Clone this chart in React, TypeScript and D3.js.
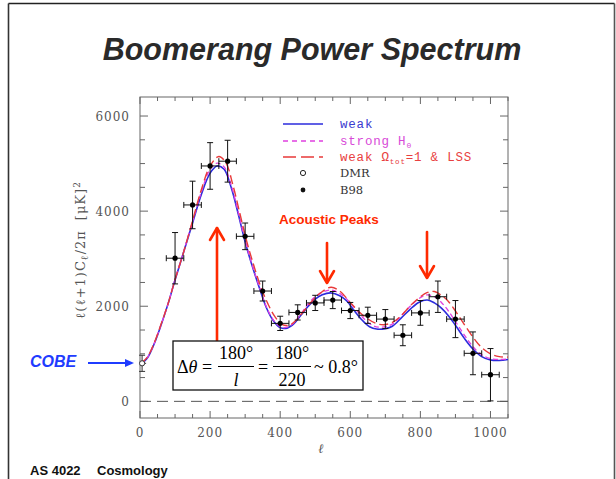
import React from 'react';
import * as d3 from 'd3';

const W = 616;
const H = 479;

// B98 band powers
const b98L = [100, 150, 200, 250, 300, 350, 400, 450, 500, 550, 600, 650, 700, 750, 800, 850, 900, 950, 1000];
const b98Power = [3010, 4130, 4950, 5050, 3470, 2320, 1640, 1870, 2070, 2130, 1910, 1810, 1730, 1390, 1860, 2200, 1730, 1010, 560];
const b98Err = [540, 500, 490, 440, 280, 210, 150, 160, 160, 180, 170, 170, 200, 220, 260, 330, 390, 450, 550];
const b98LHalfWidth = 25;

// DMR (COBE)
const dmrL = [6];
const dmrPower = [800];
const dmrErr = [170];

// Model curves
const weakL = [2, 20, 40, 60, 80, 100, 125, 150, 175, 200, 220, 240, 260, 280, 300, 320, 340, 360, 380, 400, 420, 440, 460, 480, 500, 520, 545, 570, 590, 610, 635, 655, 675, 700, 720, 745, 770, 795, 820, 840, 860, 880, 900, 925, 950, 975, 1000, 1025, 1050];
const weakPower = [780, 900, 1200, 1600, 2050, 2550, 3150, 3750, 4350, 4800, 4950, 4880, 4500, 3950, 3350, 2850, 2400, 1980, 1700, 1550, 1540, 1640, 1820, 2000, 2150, 2240, 2280, 2220, 2110, 1920, 1700, 1570, 1520, 1530, 1580, 1750, 1930, 2080, 2130, 2070, 1960, 1800, 1600, 1330, 1100, 940, 870, 860, 880];

const strongH0L = [2, 20, 40, 60, 80, 100, 125, 150, 175, 200, 220, 240, 260, 280, 300, 320, 340, 360, 380, 400, 420, 440, 460, 480, 505, 540, 565, 590, 615, 640, 660, 680, 705, 725, 750, 775, 800, 820, 840, 860, 880, 900, 925, 950, 975, 1000, 1025, 1050];
const strongH0Power = [790, 910, 1210, 1610, 2050, 2560, 3160, 3780, 4400, 4880, 5010, 4930, 4550, 3990, 3380, 2870, 2420, 2000, 1720, 1570, 1560, 1660, 1850, 2050, 2230, 2340, 2290, 2150, 1940, 1730, 1610, 1560, 1580, 1650, 1840, 2030, 2180, 2240, 2200, 2080, 1900, 1680, 1400, 1150, 980, 900, 880, 890];

const weakOmegaL = [2, 20, 40, 60, 80, 100, 125, 150, 175, 200, 225, 245, 265, 285, 305, 325, 345, 365, 385, 405, 425, 445, 465, 490, 515, 545, 570, 595, 620, 645, 670, 695, 720, 745, 770, 795, 820, 840, 860, 880, 900, 925, 950, 975, 1000, 1025, 1050];
const weakOmegaPower = [800, 920, 1220, 1620, 2050, 2560, 3150, 3800, 4450, 4950, 5150, 5020, 4550, 3950, 3350, 2850, 2400, 2050, 1780, 1620, 1600, 1700, 1880, 2100, 2280, 2400, 2320, 2120, 1920, 1760, 1650, 1610, 1660, 1800, 2000, 2170, 2290, 2310, 2230, 2100, 1900, 1620, 1350, 1130, 1000, 940, 930];

const xTicks = [0, 200, 400, 600, 800, 1000];
const yTicks = [0, 2000, 4000, 6000];

const BLUE = '#2b2bdc';
const MAGENTA = '#e040e0';
const RED = '#e83a3a';
const ARROW_RED = '#ff2a00';
const AXIS = '#666';

export default function App() {
  const x = d3.scaleLinear().domain([0, 1050]).range([140, 508]);
  const y = d3.scaleLinear().domain([-350, 6400]).range([418, 97]);
  const line = d3
    .line<[number, number]>()
    .x((d) => x(d[0]))
    .y((d) => y(d[1]))
    .curve(d3.curveCatmullRom.alpha(0.5));

  const weakPath = line(weakL.map((l, i) => [l, weakPower[i]]) as [number, number][]) || '';
  const strongPath = line(strongH0L.map((l, i) => [l, strongH0Power[i]]) as [number, number][]) || '';
  const omegaPath = line(weakOmegaL.map((l, i) => [l, weakOmegaPower[i]]) as [number, number][]) || '';

  const [x0, x1] = x.range();
  const [yb, yt] = y.range();

  const xMinor = d3.range(0, 1051, 50);
  const yMinor = d3.range(0, 6401, 500);

  const tickFont = { fontFamily: 'DejaVu Serif', fontSize: 12, fill: '#555', letterSpacing: 1 } as const;
  const legFont = { fontFamily: 'Liberation Mono', fontSize: 12.5, letterSpacing: 0.8 } as const;

  return (
    <svg
      width={W}
      height={H}
      style={{ position: 'absolute', left: 0, top: 0, background: '#fff' }}
      xmlns="http://www.w3.org/2000/svg"
    >
      {/* slide border */}
      <line x1={8.5} y1={3.5} x2={8.5} y2={H} stroke="#333" strokeWidth={1.6} />
      <line x1={8.5} y1={3.5} x2={614.5} y2={3.5} stroke="#222" strokeWidth={1.6} />
      <line x1={614.5} y1={3.5} x2={614.5} y2={H} stroke="#555" strokeWidth={1.6} />

      {/* title */}
      <text
        x={312}
        y={60}
        textAnchor="middle"
        fontFamily="Liberation Sans"
        fontWeight="bold"
        fontStyle="italic"
        fontSize={30.5}
        fill="#2a2a2a"
      >
        Boomerang Power Spectrum
      </text>

      {/* plot frame */}
      <rect x={x0} y={yt} width={x1 - x0} height={yb - yt} fill="none" stroke={AXIS} strokeWidth={1} />

      {/* x ticks */}
      {xMinor.map((v) => {
        const major = v % 200 === 0;
        const len = major ? 7 : 4;
        return (
          <g key={'xt' + v}>
            <line x1={x(v)} x2={x(v)} y1={yb} y2={yb - len} stroke={AXIS} />
            <line x1={x(v)} x2={x(v)} y1={yt} y2={yt + len} stroke={AXIS} />
          </g>
        );
      })}
      {xTicks.map((v) => (
        <text key={'xl' + v} x={x(v)} y={437} textAnchor="middle" {...tickFont}>
          {v}
        </text>
      ))}
      <text x={321} y={453} textAnchor="middle" fontFamily="DejaVu Serif" fontStyle="italic" fontSize={13} fill="#555">
        ℓ
      </text>

      {/* y ticks */}
      {yMinor.map((v) => {
        const major = v % 2000 === 0;
        const len = major ? 8 : 5;
        return (
          <g key={'yt' + v}>
            <line x1={x0} x2={x0 + len} y1={y(v)} y2={y(v)} stroke={AXIS} />
            <line x1={x1} x2={x1 - len} y1={y(v)} y2={y(v)} stroke={AXIS} />
          </g>
        );
      })}
      {yTicks.map((v) => (
        <text key={'yl' + v} x={130} y={y(v) + 4.5} textAnchor="end" {...tickFont}>
          {v}
        </text>
      ))}
      <text
        transform="translate(85,250) rotate(-90)"
        textAnchor="middle"
        fontFamily="DejaVu Serif"
        fontSize={13}
        letterSpacing={1}
        fill="#555"
      >
        ℓ(ℓ+1)C<tspan fontSize={10} dy={3}>ℓ</tspan>
        <tspan dy={-3}>/2π</tspan>
        <tspan dx={10}>[μK]</tspan>
        <tspan fontSize={9} dy={-5}>2</tspan>
      </text>

      {/* zero line */}
      <line x1={x0} x2={x1} y1={y(0)} y2={y(0)} stroke="#555" strokeWidth={1} strokeDasharray="11,6" />

      {/* model curves */}
      <path d={weakPath} fill="none" stroke={BLUE} strokeWidth={1.6} />
      <path d={strongPath} fill="none" stroke={MAGENTA} strokeWidth={1.3} strokeDasharray="5,3" />
      <path d={omegaPath} fill="none" stroke={RED} strokeWidth={1.4} strokeDasharray="9,4" />

      {/* B98 error bars */}
      {b98L.map((l, i) => {
        const cx = x(l);
        const cy = y(b98Power[i]);
        const ya = y(b98Power[i] - b98Err[i]);
        const yb2 = y(b98Power[i] + b98Err[i]);
        const xa = x(l - b98LHalfWidth);
        const xb = x(l + b98LHalfWidth);
        return (
          <g key={'b' + l} stroke="#111" strokeWidth={1}>
            <line x1={cx} x2={cx} y1={ya} y2={yb2} />
            <line x1={cx - 3} x2={cx + 3} y1={ya} y2={ya} />
            <line x1={cx - 3} x2={cx + 3} y1={yb2} y2={yb2} />
            <line x1={xa} x2={xb} y1={cy} y2={cy} />
            <line x1={xa} x2={xa} y1={cy - 3} y2={cy + 3} />
            <line x1={xb} x2={xb} y1={cy - 3} y2={cy + 3} />
            <circle cx={cx} cy={cy} r={2.6} fill="#000" stroke="none" />
          </g>
        );
      })}

      {/* DMR */}
      {dmrL.map((l, i) => {
        const cx = x(l);
        const cy = y(dmrPower[i]);
        const ya = y(dmrPower[i] - dmrErr[i]);
        const yb2 = y(dmrPower[i] + dmrErr[i]);
        return (
          <g key={'d' + l} stroke="#333" strokeWidth={1}>
            <line x1={cx} x2={cx} y1={ya} y2={yb2} />
            <line x1={cx - 3} x2={cx + 3} y1={ya} y2={ya} />
            <line x1={cx - 3} x2={cx + 3} y1={yb2} y2={yb2} />
            <line x1={x0} x2={cx + 4} y1={cy} y2={cy} />
            <circle cx={cx} cy={cy} r={2.6} fill="#fff" />
          </g>
        );
      })}

      {/* legend */}
      <line x1={283} x2={323} y1={124} y2={124} stroke={BLUE} strokeWidth={1.4} />
      <text x={340} y={128} fill="#3a3ad0" {...legFont}>weak</text>
      <line x1={283} x2={323} y1={141} y2={141} stroke={MAGENTA} strokeWidth={1.3} strokeDasharray="5,4" />
      <text x={340} y={145} fill="#d84ad8" {...legFont}>
        strong H<tspan fontSize={8} dy={3}>0</tspan>
      </text>
      <line x1={283} x2={323} y1={157} y2={157} stroke={RED} strokeWidth={1.4} strokeDasharray="13,5" />
      <text x={340} y={161} fill="#e84040" {...legFont}>
        weak Ω<tspan fontSize={7.5} dy={3}>tot</tspan>
        <tspan dy={-3}>=1 &amp; LSS</tspan>
      </text>
      <circle cx={303} cy={173} r={2.6} fill="#fff" stroke="#222" strokeWidth={1} />
      <text x={340} y={177} fontFamily="DejaVu Serif" fontSize={11.5} fill="#333">DMR</text>
      <circle cx={303} cy={190} r={2.4} fill="#111" />
      <text x={340} y={194} fontFamily="DejaVu Serif" fontSize={11.5} fill="#333">B98</text>

      {/* Acoustic peaks annotation */}
      <text x={279} y={224} fontFamily="Liberation Sans" fontWeight="bold" fontSize={13.5} fill={ARROW_RED}>
        Acoustic Peaks
      </text>
      <g stroke={ARROW_RED} strokeWidth={2.6} fill="none" strokeLinecap="round" strokeLinejoin="round">
        <line x1={217} x2={217} y1={341} y2={228} />
        <polyline points="210,240 217,228 224,240" />
        <line x1={327} x2={327} y1={243} y2={282} />
        <polyline points="320,271 327,283 334,271" />
        <line x1={427} x2={427} y1={232} y2={277} />
        <polyline points="420,266 427,278 434,266" />
      </g>

      {/* COBE annotation */}
      <text x={30} y={367} fontFamily="Liberation Sans" fontWeight="bold" fontStyle="italic" fontSize={16} fill="#1f3cff">
        COBE
      </text>
      <line x1={88} x2={127} y1={363} y2={363} stroke="#1f3cff" strokeWidth={2} />
      <polygon points="125,359 134,363 125,367" fill="#1f3cff" />

      {/* formula box */}
      <rect x={173} y={341} width={190} height={49} fill="#fff" stroke="#111" strokeWidth={1.3} />
      <g fontFamily="Liberation Serif" fontSize={18} fill="#000">
        <text x={177} y={373}>
          Δ<tspan fontStyle="italic">θ</tspan> =
        </text>
        <text x={236} y={359} textAnchor="middle">180°</text>
        <line x1={218} x2={254} y1={366.5} y2={366.5} stroke="#000" strokeWidth={1} />
        <text x={236} y={386} textAnchor="middle" fontStyle="italic">l</text>
        <text x={263} y={373} textAnchor="middle">=</text>
        <text x={292} y={359} textAnchor="middle">180°</text>
        <line x1={273} x2={311} y1={366.5} y2={366.5} stroke="#000" strokeWidth={1} />
        <text x={292} y={386} textAnchor="middle">220</text>
        <text x={314} y={373}>~ 0.8°</text>
      </g>

      {/* footer */}
      <text x={30} y={475} fontFamily="Liberation Sans" fontWeight="bold" fontSize={13} fill="#111">
        AS 4022
      </text>
      <text x={97} y={475} fontFamily="Liberation Sans" fontWeight="bold" fontSize={13} fill="#111">
        Cosmology
      </text>
    </svg>
  );
}
